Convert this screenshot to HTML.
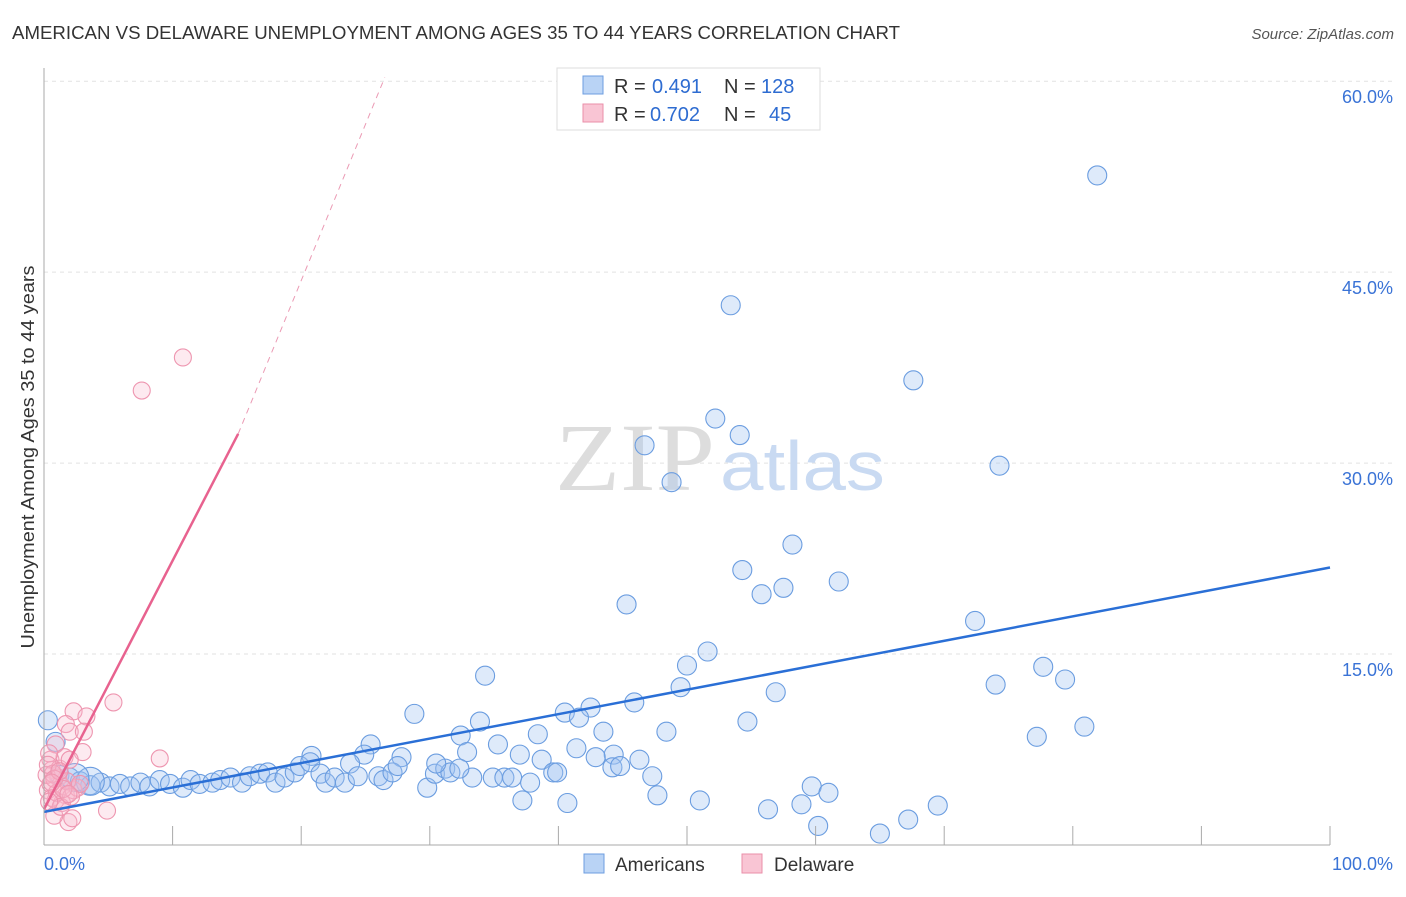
<!DOCTYPE html>
<html><head><meta charset="utf-8"><style>
body{margin:0;background:#fff;font-family:"Liberation Sans",sans-serif}
</style></head><body>
<svg width="1406" height="892" xmlns="http://www.w3.org/2000/svg">
<text x="12" y="39" font-size="18" fill="#333" textLength="888" lengthAdjust="spacingAndGlyphs">AMERICAN VS DELAWARE UNEMPLOYMENT AMONG AGES 35 TO 44 YEARS CORRELATION CHART</text>
<text x="1394" y="39" font-size="15" fill="#555" text-anchor="end" font-style="italic">Source: ZipAtlas.com</text>
<g id="grid"></g>
<text x="555" y="490" font-size="96" fill="#ddd" textLength="160" lengthAdjust="spacingAndGlyphs" font-family="Liberation Serif">ZIP</text>
<text x="720" y="490" font-size="70" fill="#c9daf2" textLength="165" lengthAdjust="spacingAndGlyphs">atlas</text>
<g id="pts"></g>
<g id="axes"></g>
<text transform="translate(34,457) rotate(-90)" font-size="18" fill="#333" text-anchor="middle" textLength="383" lengthAdjust="spacingAndGlyphs">Unemployment Among Ages 35 to 44 years</text>
<g>
<rect x="557" y="68" width="263" height="62" fill="#fff" stroke="#ddd"/>
<rect x="583" y="76" width="20" height="18" fill="#b9d3f5" stroke="#6d9ee0"/>
<rect x="583" y="104" width="20" height="18" fill="#f9c5d4" stroke="#ea8fa9"/>
<text y="93" font-size="20" fill="#333"><tspan x="614">R =</tspan><tspan x="652" fill="#2e6cd1">0.491</tspan><tspan x="724">N =</tspan><tspan x="761" fill="#2e6cd1">128</tspan></text>
<text y="121" font-size="20" fill="#333"><tspan x="614">R =</tspan><tspan x="650" fill="#2e6cd1">0.702</tspan><tspan x="724">N =</tspan><tspan x="769" fill="#2e6cd1">45</tspan></text>
</g>
<g>
<rect x="584" y="854" width="20" height="19" fill="#b9d3f5" stroke="#6d9ee0"/>
<text x="615" y="871" font-size="19" fill="#333">Americans</text>
<rect x="742" y="854" width="20" height="19" fill="#f9c5d4" stroke="#ea8fa9"/>
<text x="774" y="871" font-size="19" fill="#333">Delaware</text>
</g>
</svg>
<script>
const yTicks=[15,30,45,60];
const yTickLabels=["15.0%","30.0%","45.0%","60.0%"];
const xEndLabels=["0.0%","100.0%"];
const blueX=[81.9,53.4,67.6,52.2,54.1,46.7,48.8,74.3,58.2,54.3,61.8,57.5,55.8,45.3,72.4,51.6,50.0,77.7,34.3,49.5,74.0,79.4,56.9,45.9,28.8,42.5,40.5,41.6,54.7,33.9,80.9,32.4,38.4,48.4,43.5,77.2,25.4,35.3,41.4,32.9,37.0,44.3,20.8,24.9,27.8,38.7,42.9,0.3,0.9,
1.2,2.0,2.8,3.6,4.4,5.1,5.9,6.7,7.5,8.2,9.0,9.8,10.8,11.4,12.1,13.1,13.7,14.5,15.4,16.0,16.8,17.4,18.0,18.7,19.5,19.9,20.7,21.5,21.9,22.6,23.4,23.8,24.4,26.0,26.4,27.1,27.5,29.8,30.4,31.2,31.6,33.3,34.9,35.8,36.4,37.8,39.6,39.9,47.3,47.7,51.0,37.2,40.7,56.3,58.9,59.7,61.0,60.2,65.0,67.2,69.5,44.2,44.8,46.3,32.3,30.5,3.6,2.4];
const blueY=[52.6,42.4,36.5,33.5,32.2,31.4,28.5,29.8,23.6,21.6,20.7,20.2,19.7,18.9,17.6,15.2,14.1,14.0,13.3,12.4,12.6,13.0,12.0,11.2,10.3,10.8,10.4,10.0,9.7,9.7,9.3,8.6,8.7,8.9,8.9,8.5,7.9,7.9,7.6,7.3,7.1,7.1,7.0,7.1,6.9,6.7,6.9,9.8,8.1,
5.5,5.3,5.0,4.7,4.9,4.6,4.8,4.6,4.9,4.6,5.1,4.8,4.5,5.1,4.8,4.9,5.1,5.3,4.9,5.4,5.6,5.7,4.9,5.3,5.7,6.2,6.5,5.6,4.9,5.3,4.9,6.4,5.4,5.4,5.1,5.7,6.2,4.5,5.6,6.0,5.7,5.3,5.3,5.3,5.3,4.9,5.7,5.7,5.4,3.9,3.5,3.5,3.3,2.8,3.2,4.6,4.1,1.5,0.9,2.0,3.1,6.1,6.2,6.7,6.0,6.4,5.0,5.3];
const pinkX=[10.8,7.6,5.4,2.3,3.3,9.0,1.7,2.0,0.9,3.0,4.9,1.9,2.2,0.8,0.5,0.6,1.1,1.4,0.3,1.7,0.9,2.3,0.5,1.2,1.6,0.2,2.6,1.4,0.6,2.0,3.1,0.4,1.0,1.8,2.8,0.7,1.3,0.3,2.1,1.5,0.8,0.4,1.9,1.2,0.6];
const pinkY=[38.3,35.7,11.2,10.5,10.1,6.8,9.5,8.9,7.9,7.3,2.7,1.8,2.1,2.3,6.7,5.9,5.3,4.6,4.3,3.9,3.5,4.3,4.8,6.0,6.9,5.5,4.5,3.3,3.7,6.7,8.9,7.2,4.1,5.0,4.8,5.6,3.0,6.3,3.8,4.4,5.2,3.4,4.0,5.8,4.9];
const blueLine={x0:0,y0:2.6,x1:100,y1:21.8};
const pinkLine={x0:0,y0:2.8,x1:15.1,y1:32.3,xd:26.5,yd:60.3};
const NS="http://www.w3.org/2000/svg";
const X=v=>44+v*12.86, Y=v=>845-v*12.73;
function mk(t,a,p){const e=document.createElementNS(NS,t);for(const k in a)e.setAttribute(k,a[k]);p.appendChild(e);return e;}
const grid=document.getElementById('grid'),axes=document.getElementById('axes'),pts=document.getElementById('pts');
yTicks.forEach((t,i)=>{
 const l=mk('line',{x1:44,x2:1394,y1:Y(t),y2:Y(t),stroke:'#e2e2e2','stroke-dasharray':'4,4'},grid);
 
 
 const tx=mk('text',{x:1393,y:Y(t)+22,'font-size':18,fill:'#3a73d6','text-anchor':'end'},axes);tx.textContent=yTickLabels[i];
 
 
});
mk('line',{x1:44,x2:44,y1:68,y2:845,stroke:'#aaa'},axes);
mk('line',{x1:44,x2:1330,y1:845,y2:845,stroke:'#aaa'},axes);
for(let i=1;i<=10;i++){const t=mk('line',{x1:X(i*10),x2:X(i*10),y1:826,y2:845,stroke:'#aaa'},axes);
 
 }
let a=mk('text',{x:44,y:870,'font-size':18,fill:'#3a73d6'},axes);a.textContent=xEndLabels[0];
a=mk('text',{x:1393,y:870,'font-size':18,fill:'#3a73d6','text-anchor':'end'},axes);a.textContent=xEndLabels[1];
blueX.forEach((v,i)=>{const c=mk('circle',{cx:X(v),cy:Y(blueY[i]),r:(i>=blueX.length-2)?14:9.5,fill:'rgba(160,196,242,0.35)',stroke:'#6b9de0','stroke-width':1.1},pts);
 
 });
pinkX.forEach((v,i)=>{const c=mk('circle',{cx:X(v),cy:Y(pinkY[i]),r:8.5,fill:'rgba(248,185,205,0.3)',stroke:'#ee96b0','stroke-width':1.1},pts);
 
 });
let l=mk('line',{x1:X(blueLine.x0),y1:Y(blueLine.y0),x2:X(blueLine.x1),y2:Y(blueLine.y1),stroke:'#2a6fd6','stroke-width':2.5},pts);


l=mk('line',{x1:X(pinkLine.x0),y1:Y(pinkLine.y0),x2:X(pinkLine.x1),y2:Y(pinkLine.y1),stroke:'#e8628f','stroke-width':2.5},pts);


l=mk('line',{x1:X(pinkLine.x1),y1:Y(pinkLine.y1),x2:X(pinkLine.xd),y2:Y(pinkLine.yd),stroke:'#eb9ab4','stroke-width':1,'stroke-dasharray':'6,5'},pts);


</script>
</body></html>
